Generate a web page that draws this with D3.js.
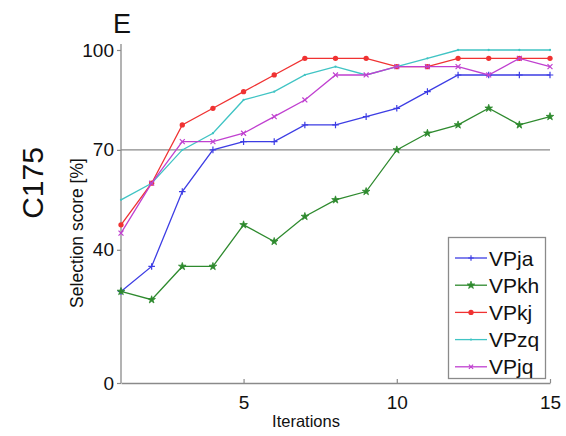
<!DOCTYPE html>
<html>
<head>
<meta charset="utf-8">
<script src="https://cdn.jsdelivr.net/npm/d3@7"></script>
<style>
  html, body { margin: 0; padding: 0; background: #fff; }
  svg { display: block; font-family: "Liberation Sans", Arial, sans-serif; }
</style>
</head>
<body>
<svg id="chart" width="566" height="436"></svg>
<script>
// Iterations 1..15
const iterations = [1, 2, 3, 4, 5, 6, 7, 8, 9, 10, 11, 12, 13, 14, 15];

// Selection score [%] per iteration
const vpja = [27.5, 35, 57.5, 70, 72.5, 72.5, 77.5, 77.5, 80, 82.5, 87.5, 92.5, 92.5, 92.5, 92.5];
const vpkh = [27.5, 25, 35, 35, 47.5, 42.5, 50, 55, 57.5, 70, 75, 77.5, 82.5, 77.5, 80];
const vpkj = [47.5, 60, 77.5, 82.5, 87.5, 92.5, 97.5, 97.5, 97.5, 95, 95, 97.5, 97.5, 97.5, 97.5];
const vpzq = [55, 60, 70, 75, 85, 87.5, 92.5, 95, 92.5, 95, 97.5, 100, 100, 100, 100];
const vpjq = [45, 60, 72.5, 72.5, 75, 80, 85, 92.5, 92.5, 95, 95, 95, 92.5, 97.5, 95];

const seriesNames = ["VPja", "VPkh", "VPkj", "VPzq", "VPjq"];
const yTicks = [0, 40, 70, 100];
const xTicks = [5, 10, 15];
const refLine = 70;

const series = [
  { name: seriesNames[0], values: vpja, color: "#3d3de4", marker: "plus" },
  { name: seriesNames[1], values: vpkh, color: "#2e8a2e", marker: "star" },
  { name: seriesNames[2], values: vpkj, color: "#f03232", marker: "asterisk" },
  { name: seriesNames[3], values: vpzq, color: "#40c4c4", marker: "dot" },
  { name: seriesNames[4], values: vpjq, color: "#c040d0", marker: "cross" }
];

const svg = d3.select("#chart");
const axisColor = "#8a8a8a";

const x = d3.scaleLinear().domain([1, 15]).range([121, 550]);
const y = d3.scaleLinear().domain([0, 100]).range([383, 50]);

// Horizontal reference line at 70 %
svg.append("line")
  .attr("x1", x(1)).attr("x2", x(15))
  .attr("y1", y(refLine)).attr("y2", y(refLine))
  .attr("stroke", axisColor).attr("stroke-width", 1.3);

// Axes
const yAxis = d3.axisLeft(y).tickValues(yTicks).tickSize(4).tickPadding(3).tickSizeOuter(0);
const xAxis = d3.axisBottom(x).tickValues(xTicks).tickSize(4).tickPadding(8).tickSizeOuter(0);

const gy = svg.append("g").attr("transform", `translate(${x(1)},0)`).call(yAxis);
const gx = svg.append("g").attr("transform", `translate(0,${y(0)})`).call(xAxis);

gy.select(".domain").attr("d", `M0,${y(0)}V${y(100) - 6}`);
[gx, gy].forEach(g => {
  g.select(".domain").attr("stroke", axisColor).attr("stroke-width", 1.3);
  g.selectAll(".tick line").attr("stroke", axisColor).attr("stroke-width", 1.2);
  g.selectAll(".tick text").attr("fill", "#111").attr("font-size", 19);
});
gx.selectAll(".tick line").attr("y2", -4);
gx.selectAll(".tick text").attr("dy", "0.75em");

// Marker paths
function markerPath(type, s) {
  switch (type) {
    case "plus": return `M${-s},0H${s}M0,${-s}V${s}`;
    case "cross": return `M${-s*0.75},${-s*0.75}L${s*0.75},${s*0.75}M${-s*0.75},${s*0.75}L${s*0.75},${-s*0.75}`;
    default: return "";
  }
}

const line = d3.line().x((d, i) => x(iterations[i])).y(d => y(d));
const star = d3.symbol().type(d3.symbolStar).size(18);
const dot = d3.symbol().type(d3.symbolCircle).size(4);
const blob = d3.symbol().type(d3.symbolCircle).size(22);

function drawMarker(g, s, px, py, size) {
  const m = g.append("g").attr("transform", `translate(${px},${py})`);
  if (s.marker === "star") {
    m.append("path").attr("d", star()).attr("fill", s.color).attr("stroke", s.color).attr("stroke-width", 0.8);
  } else if (s.marker === "dot") {
    m.append("path").attr("d", dot()).attr("fill", s.color);
  } else if (s.marker === "asterisk") {
    m.append("path").attr("d", blob()).attr("fill", s.color);
  } else {
    m.append("path").attr("d", markerPath(s.marker, size)).attr("stroke", s.color).attr("stroke-width", 1.2);
  }
}

const plot = svg.append("g");
series.forEach(s => {
  plot.append("path")
    .attr("d", line(s.values))
    .attr("fill", "none")
    .attr("stroke", s.color)
    .attr("stroke-width", 1.3);
  s.values.forEach((v, i) => drawMarker(plot, s, x(iterations[i]), y(v), 3.3));
});

// Legend
const lg = svg.append("g");
lg.append("rect")
  .attr("x", 448.5).attr("y", 237.5).attr("width", 97).attr("height", 141)
  .attr("fill", "#fff").attr("stroke", axisColor).attr("stroke-width", 1.3);
series.forEach((s, i) => {
  const cy = 258 + i * 27.2;
  lg.append("line").attr("x1", 455).attr("x2", 487).attr("y1", cy).attr("y2", cy)
    .attr("stroke", s.color).attr("stroke-width", 1.3);
  drawMarker(lg, s, 471, cy, 2.8);
  lg.append("text").attr("x", 489).attr("y", cy).attr("dy", "0.36em")
    .attr("font-size", 21).attr("fill", "#111").text(s.name);
});

// Titles and labels
svg.append("text").attr("x", 113).attr("y", 33).attr("font-size", 27).attr("fill", "#111").text("E");
svg.append("text")
  .attr("transform", `translate(43,183) rotate(-90)`)
  .attr("text-anchor", "middle").attr("font-size", 30).attr("fill", "#111").text("C175");
svg.append("text")
  .attr("transform", `translate(83,233) rotate(-90)`)
  .attr("text-anchor", "middle").attr("font-size", 17.5).attr("fill", "#111").text("Selection score [%]");
svg.append("text")
  .attr("x", 306).attr("y", 427)
  .attr("text-anchor", "middle").attr("font-size", 16.5).attr("fill", "#111").text("Iterations");
</script>
</body>
</html>
